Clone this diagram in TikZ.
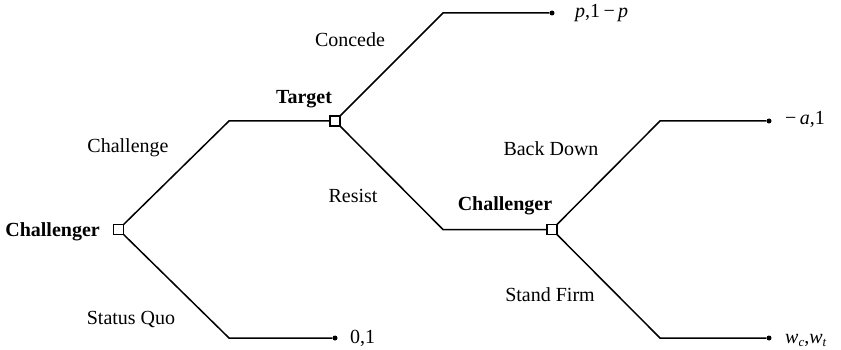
\documentclass[tikz,border=0pt]{standalone}
\usepackage{fontspec}
\setmainfont{Liberation Serif}
\newcommand{\wsub}[2]{\textit{#1}\raisebox{-0.35ex}{\fontsize{13}{15}\selectfont\textit{#2}}}
\begin{document}
\begin{tikzpicture}[x=1pt,y=-1pt,
  every node/.style={font=\fontsize{20}{24}\selectfont},
  branch/.style={line width=1.5pt,line join=miter},
  decbox/.style={draw,line width=1.2pt,fill=white,minimum size=10pt,inner sep=0pt},
  enddot/.style={circle,fill=black,minimum size=5pt,inner sep=0pt},
  lbl/.style={inner sep=0pt,anchor=base},
  pay/.style={inner sep=0pt,anchor=base west},
  player/.style={inner sep=0pt,anchor=base,font=\fontsize{20}{24}\selectfont\bfseries}]
\useasboundingbox (0,0) rectangle (841,350);
% decision nodes
\node[decbox] (c1) at (118.5,229.5) {};
\node[decbox] (t) at (335,121) {};
\node[decbox] (c2) at (552,229.5) {};
% bends
\coordinate (a1) at (229,121);
\coordinate (b1) at (229,338);
\coordinate (a2) at (443,13);
\coordinate (a3) at (443,229.5);
\coordinate (a4) at (660,121);
\coordinate (a5) at (660,338);
% terminal dots
\node[enddot] (e01) at (335,338) {};
\node[enddot] (ep) at (552,13) {};
\node[enddot] (ea) at (769,121) {};
\node[enddot] (ew) at (769,338) {};
% branches
\draw[branch] (c1.center) -- (a1) -- (t);
\draw[branch] (c1.center) -- (b1) -- (e01);
\draw[branch] (t.center) -- (a2) -- (ep);
\draw[branch] (t.center) -- (a3) -- (c2);
\draw[branch] (c2.center) -- (a4) -- (ea);
\draw[branch] (c2.center) -- (a5) -- (ew);
% redraw boxes on top
\node[decbox] at (c1) {};
\node[decbox] at (t) {};
\node[decbox] at (c2) {};
% player labels
\node[player,anchor=base east] (lc1) at (100,236) {Challenger};
\node[player] (lt) at (304,104) {Target};
\node[player] (lc2) at (505,210) {Challenger};
% action labels
\node[lbl] (lchal) at (128,153) {Challenge};
\node[lbl] (lsq) at (131,324) {Status Quo};
\node[lbl] (lcon) at (350,47) {Concede};
\node[lbl] (lres) at (353,202) {Resist};
\node[lbl] (lbd) at (551,156) {Back Down};
\node[lbl] (lsf) at (550,301) {Stand Firm};
% payoffs
\node[pay] (pp) at (575,18) {\textit{p},1\,−\,\textit{p}};
\node[pay] (pa) at (785,125) {−\,\textit{a},1};
\node[pay] (pw) at (785,343) {\wsub{w}{c},\wsub{w}{t}};
\node[pay] (p0) at (350,343) {0,1};
\end{tikzpicture}
\end{document}
